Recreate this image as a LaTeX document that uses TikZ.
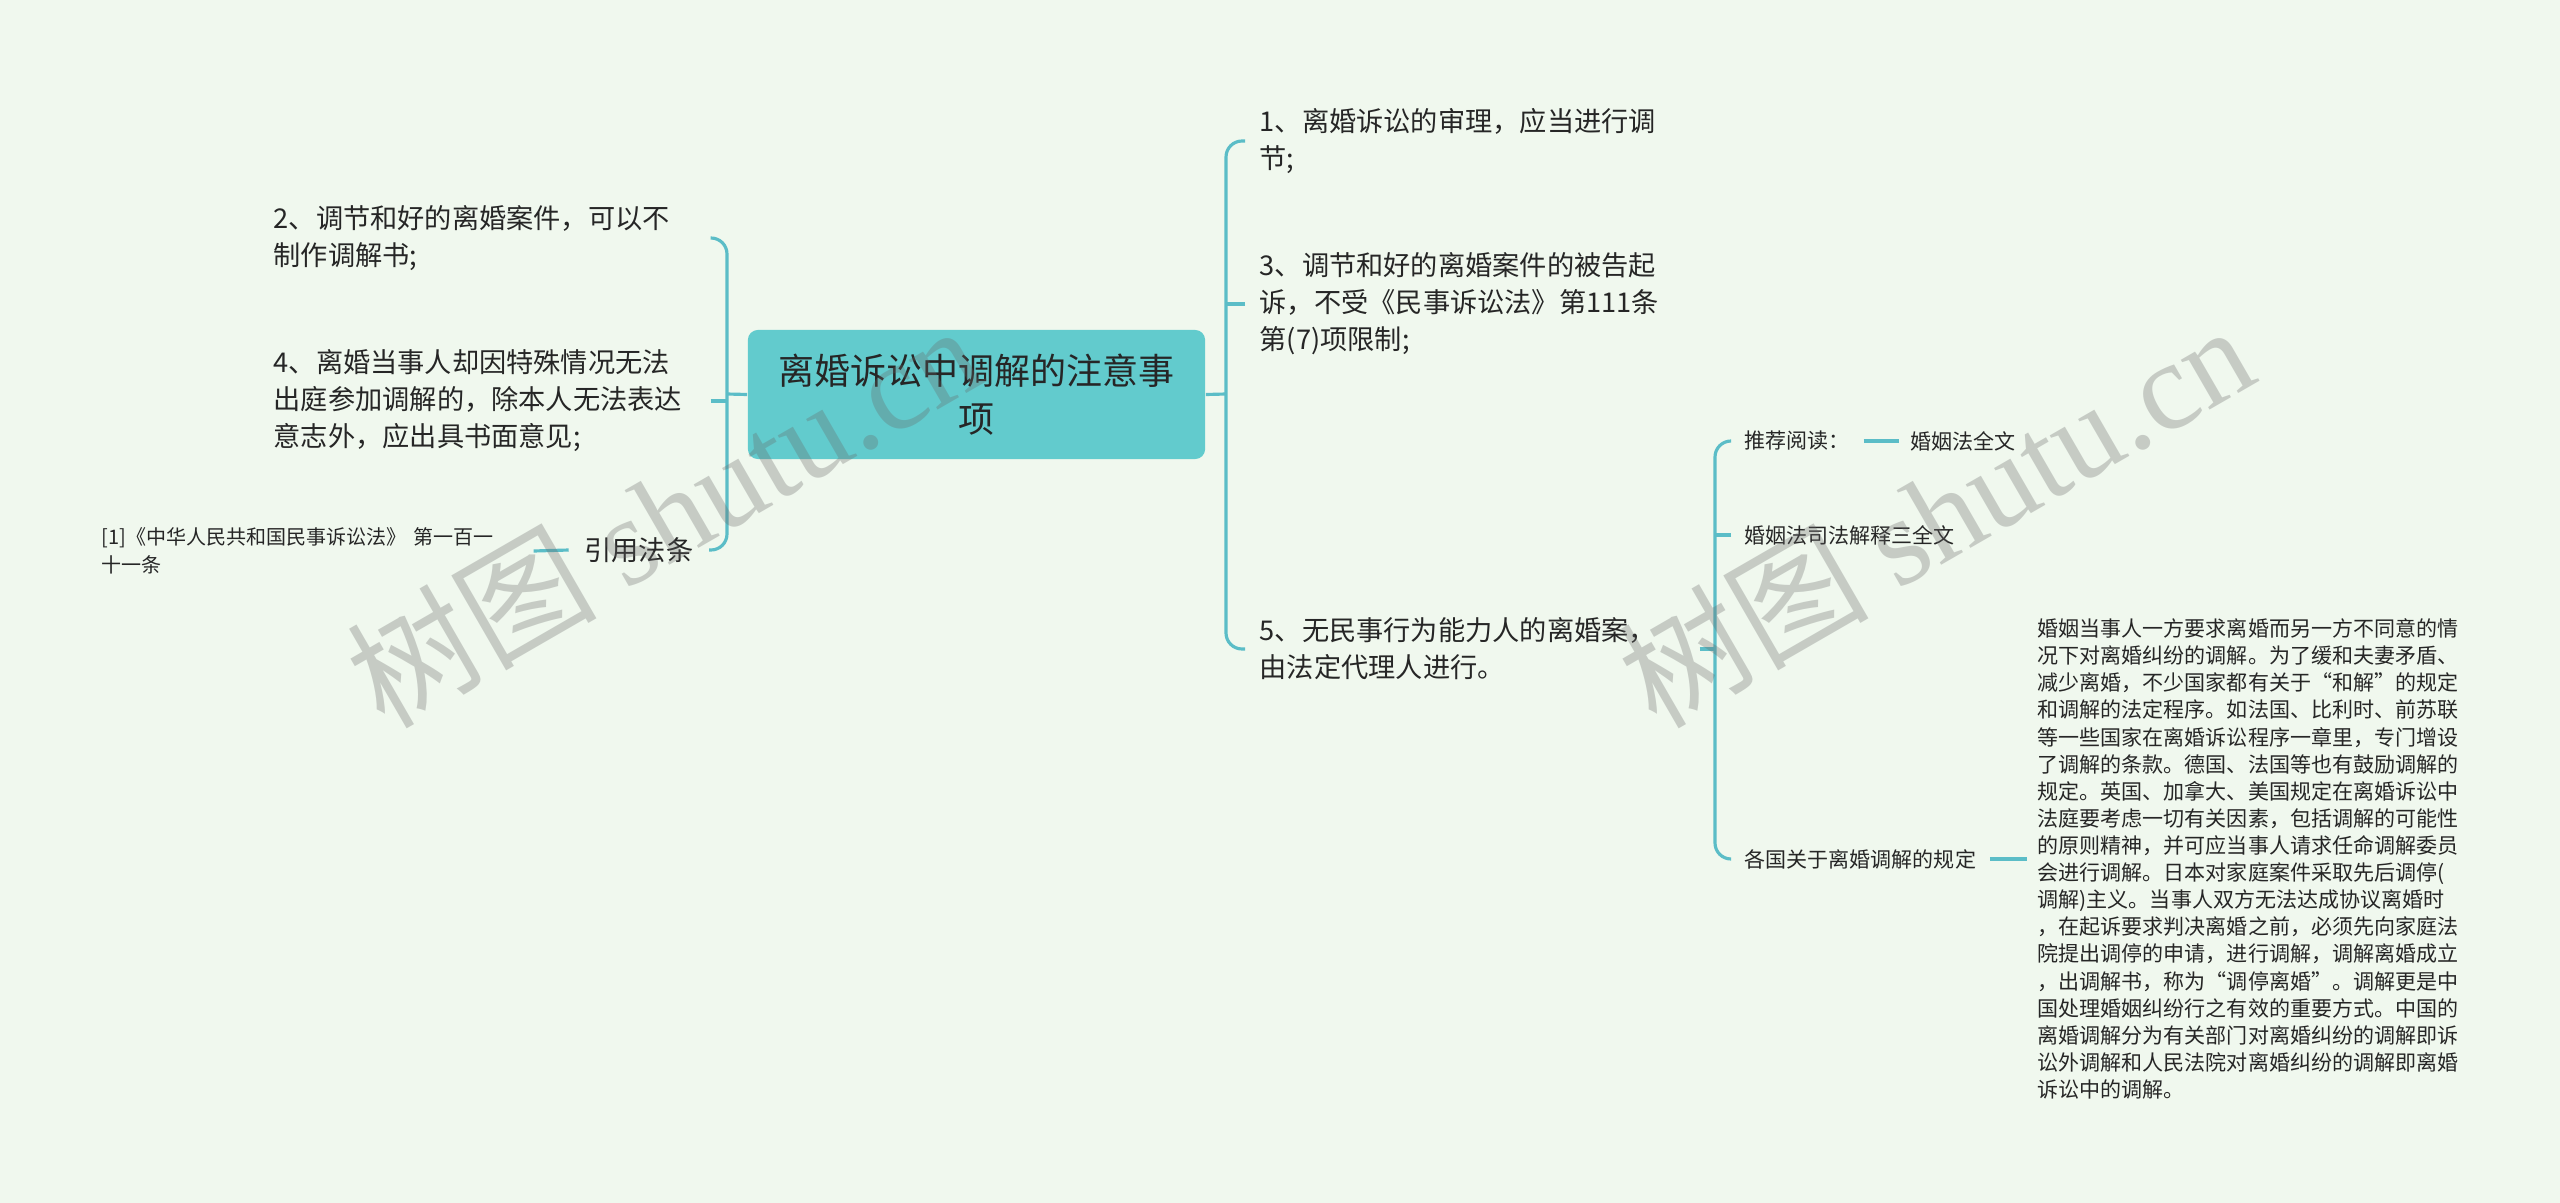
\documentclass[tikz,border=0pt]{standalone}
\usepackage{fontspec}
\setmainfont{Noto Sans CJK SC}
\newfontfamily\wmfont{Liberation Serif}
\definecolor{bg}{HTML}{F0F8EE}
\definecolor{box}{HTML}{62CBCD}
\definecolor{lnk}{HTML}{5BBDC7}
\definecolor{ink}{HTML}{262626}
\begin{document}
\begin{tikzpicture}[x=0.01cm,y=-0.01cm,
  link/.style={draw=lnk,line width=0.9pt},
  bracket/.style={link,rounded corners=0.16cm},
  lefttxt/.style={anchor=west,align=left,text width=4.36cm,inner xsep=0pt,inner ysep=0pt,text=ink,font=\fontsize{7.74pt}{10.53pt}\selectfont},
  righttxt/.style={lefttxt,text width=4.25cm,inner xsep=0.14cm},
  small/.style={anchor=west,inner xsep=0.13cm,inner ysep=0pt,text=ink,font=\fontsize{5.98pt}{7.71pt}\selectfont},
  wmark/.style={rotate=30,text=black!60,text opacity=0.3,font=\fontsize{35.6pt}{40pt}\selectfont}]
\fill[bg] (0,0) rectangle (2560,1203);
\useasboundingbox (0,0) rectangle (2560,1203);
\node[fill=box,rounded corners=0.1cm,minimum width=4.57cm,minimum height=1.29cm,align=center,text=ink,font=\fontsize{10.24pt}{13.66pt}\selectfont] (root) at (976.5,394.5) {离婚诉讼中调解的注意事\\项};
\node[lefttxt] (n2) at (273,238) {2、调节和好的离婚案件，可以不\\制作调解书;};
\node[lefttxt] (n4) at (273,401) {4、离婚当事人却因特殊情况无法\\出庭参加调解的，除本人无法表达\\意志外，应出具书面意见;};
\node[anchor=east,inner xsep=0.15cm,inner ysep=0pt,text=ink,font=\fontsize{7.74pt}{10.53pt}\selectfont] (cite) at (709,550) {引用法条};
\node[lefttxt,text width=4.31cm,font=\fontsize{5.69pt}{7.97pt}\selectfont] (law) at (101,551) {[1]《中华人民共和国民事诉讼法》 第一百一\\十一条};
\node[righttxt] (n1) at (1245,141) {1、离婚诉讼的审理，应当进行调\\节;};
\node[righttxt] (n3) at (1245,304) {3、调节和好的离婚案件的被告起\\诉，不受《民事诉讼法》第111条\\第(7)项限制;};
\node[righttxt] (n5) at (1245,649) {5、无民事行为能力人的离婚案，\\由法定代理人进行。};
\node[small] (read) at (1731,441) {推荐阅读：};
\node[small,inner xsep=0.11cm] (full) at (1899,441) {婚姻法全文};
\node[small] (interp) at (1731,535) {婚姻法司法解释三全文};
\node[small] (rules) at (1731,859) {各国关于离婚调解的规定};
\node[small,align=left,inner xsep=0.10cm] (desc) at (2027,859) {婚姻当事人一方要求离婚而另一方不同意的情\\况下对离婚纠纷的调解。为了缓和夫妻矛盾、\\减少离婚，不少国家都有关于“和解”的规定\\和调解的法定程序。如法国、比利时、前苏联\\等一些国家在离婚诉讼程序一章里，专门增设\\了调解的条款。德国、法国等也有鼓励调解的\\规定。英国、加拿大、美国规定在离婚诉讼中\\法庭要考虑一切有关因素，包括调解的可能性\\的原则精神，并可应当事人请求任命调解委员\\会进行调解。日本对家庭案件采取先后调停(\\调解)主义。当事人双方无法达成协议离婚时\\，在起诉要求判决离婚之前，必须先向家庭法\\院提出调停的申请，进行调解，调解离婚成立\\，出调解书，称为“调停离婚”。调解更是中\\国处理婚姻纠纷行之有效的重要方式。中国的\\离婚调解分为有关部门对离婚纠纷的调解即诉\\讼外调解和人民法院对离婚纠纷的调解即离婚\\诉讼中的调解。};
\coordinate (lbar) at (727,394);
\coordinate (rbar) at (1226,394);
\coordinate (sbar) at (1715,649);
\draw[link] (root.west) -- (lbar);
\draw[bracket] (n2.east) -| (lbar |- cite.east) -- (cite.east);
\draw[link] (n4.east) -- (n4.east -| lbar);
\draw[link] (cite.west) -- (law.east);
\draw[link] (root.east) -- (rbar);
\draw[bracket] (n1.west) -| (rbar |- n5.west) -- (n5.west);
\draw[link] (n3.west) -- (n3.west -| rbar);
\draw[link] (n5.east) -- (sbar);
\draw[bracket] (read.west) -| (sbar |- rules.west) -- (rules.west);
\draw[link] (interp.west) -- (interp.west -| sbar);
\draw[link] (read.east) -- (full.west);
\draw[link] (rules.east) -- (desc.west);
\node[wmark] (wm1) at (663,514) {树图 {\wmfont shutu.cn}};
\node[wmark] (wm2) at (1935,514) {树图 {\wmfont shutu.cn}};
\end{tikzpicture}
\end{document}
